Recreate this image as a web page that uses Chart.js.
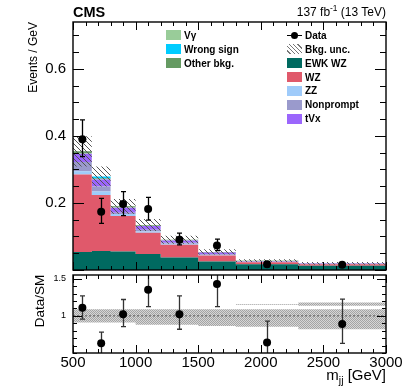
<!DOCTYPE html>
<html>
<head>
<meta charset="utf-8">
<script src="https://cdn.jsdelivr.net/npm/chart.js@4.4.1/dist/chart.umd.min.js"></script>
<style>
  body { margin: 0; background: #fff; font-family: "Liberation Sans", Arial, sans-serif; }
  #wrap { position: relative; width: 407px; height: 387px; overflow: hidden; background: #fff; }
  canvas { position: absolute; left: 0; }
  .txt { position: absolute; white-space: nowrap; color: #000; line-height: 1; }
  .leg { position: absolute; display: flex; align-items: center; height: 14px; font-weight: bold; font-size: 10px; white-space: nowrap; }
  .sw { display: inline-block; width: 15px; height: 10px; margin-right: 3px; }
  sup, sub { font-size: 70%; line-height: 0; }
</style>
</head>
<body>
<div id="wrap">
  <canvas id="top" width="407" height="272" style="top:0"></canvas>
  <canvas id="bottom" width="407" height="115" style="top:272px"></canvas>

  <div class="txt" style="left:73px; top:5px; font-size:14.5px; font-weight:bold;">CMS</div>
  <div class="txt" style="right:21px; top:6px; font-size:12px;">137 fb<sup>-1</sup> (13 TeV)</div>
  <div class="txt" style="left:33px; top:22px; font-size:12px; transform-origin:0 0; transform:rotate(-90deg) translate(-100%,-50%);">Events / GeV</div>
  <div class="txt" style="left:40px; top:301px; font-size:13.5px; transform:translate(-50%,-50%) rotate(-90deg);">Data/SM</div>
  <div class="txt" style="right:21px; top:367px; font-size:15px;">m<sub>jj</sub> [GeV]</div>

  <div id="legend"></div>
</div>

<script>
// bins in m_jj (GeV)
const binEdges = [500, 650, 800, 1000, 1200, 1500, 1800, 2300, 3000];

// stacked backgrounds, Events / GeV, bottom to top
const ewkWZ     = [0.054, 0.057, 0.055, 0.048, 0.037, 0.025, 0.017, 0.013];
const wz        = [0.231, 0.167, 0.106, 0.063, 0.038, 0.018, 0.006, 0.004];
const zz        = [0.010, 0.010, 0.006, 0.004, 0.003, 0.002, 0.001, 0.0005];
const nonprompt = [0.027, 0.015, 0.004, 0.005, 0.003, 0.002, 0.001, 0.0005];
const tVx       = [0.025, 0.021, 0.015, 0.011, 0.007, 0.005, 0.002, 0.0015];
const vGamma    = [0.002, 0.001, 0.001, 0.001, 0.0005, 0.0005, 0.0003, 0.0002];
const otherBkg  = [0.005, 0.002, 0.003, 0.002, 0.0015, 0.0015, 0.0007, 0.0003];
const wrongSign = [0.000, 0.006, 0.000, 0.000, 0.000, 0.000, 0.000, 0.000];
const bkgUnc    = [0.045, 0.030, 0.022, 0.018, 0.012, 0.008, 0.004, 0.004];

// data points
const dataX       = [575, 725, 900, 1100, 1350, 1650, 2050, 2650];
const dataY       = [0.390, 0.174, 0.197, 0.182, 0.090, 0.073, 0.017, 0.016];
const dataErrUp   = [0.058, 0.040, 0.037, 0.035, 0.020, 0.019, 0.008, 0.005];
const dataErrDown = [0.052, 0.035, 0.035, 0.033, 0.015, 0.015, 0.007, 0.004];

// ratio panel
const ratioY       = [1.11, 0.63, 1.02, 1.35, 1.02, 1.43, 0.64, 0.89];
const ratioErrUp   = [0.16, 0.15, 0.20, 0.25, 0.25, 0.27, 0.29, 0.335];
const ratioErrDown = [0.155, 0.18, 0.165, 0.225, 0.20, 0.305, 0.25, 0.26];
const ratioBandLow  = [0.91, 0.91, 0.91, 0.88, 0.88, 0.865, 0.855, 0.82];
const ratioBandHigh = [1.09, 1.09, 1.09, 1.09, 1.09, 1.09, 1.09, 1.09];
const stripEdges = [1800, 2300, 3000];
const stripLow   = [1.145, 1.135];
const stripHigh  = [1.155, 1.18];

const COLORS = {
  ewk: '#006a60', wz: '#e0596b', zz: '#9fcbfa', np: '#9a9acc',
  tvx: '#9b66fc', vg: '#99cc99', other: '#659a62', ws: '#00ccff'
};

// histogram -> stepped points at bin edges
function steps(vals, edges) {
  edges = edges || binEdges;
  const pts = vals.map((v, i) => ({ x: edges[i], y: v }));
  pts.push({ x: edges[edges.length - 1], y: vals[vals.length - 1] });
  return pts;
}

function hatchPattern() {
  const c = document.createElement('canvas');
  c.width = 5; c.height = 5;
  const g = c.getContext('2d');
  g.strokeStyle = '#555';
  g.lineWidth = 1;
  g.beginPath();
  g.moveTo(0, 0); g.lineTo(5, 5);
  g.moveTo(-1, 4); g.lineTo(1, 6);
  g.moveTo(4, -1); g.lineTo(6, 1);
  g.stroke();
  return g.createPattern(c, 'repeat');
}

function dotPattern() {
  const c = document.createElement('canvas');
  c.width = 2; c.height = 2;
  const g = c.getContext('2d');
  g.fillStyle = '#d6d6d6'; g.fillRect(0, 0, 2, 2);
  g.fillStyle = '#a4a4a4'; g.fillRect(0, 0, 1, 1); g.fillRect(1, 1, 1, 1);
  return g.createPattern(c, 'repeat');
}

// frame + inward ROOT style ticks
const frameTicks = {
  id: 'frameTicks',
  afterDraw(chart, args, o) {
    const { ctx, chartArea: a } = chart;
    const xs = chart.scales.x, ys = chart.scales.y;
    ctx.save();
    ctx.strokeStyle = '#000';
    ctx.lineWidth = 1;
    ctx.beginPath();
    for (let i = 0; i <= 25; i++) {
      const v = 500 + i * 100;
      const px = Math.round(xs.getPixelForValue(v)) + 0.5;
      const len = v % 500 === 0 ? o.xMajor : o.xMinor;
      ctx.moveTo(px, a.bottom); ctx.lineTo(px, a.bottom - len);
      ctx.moveTo(px, a.top); ctx.lineTo(px, a.top + len);
    }
    const n = Math.round((o.yTo - o.yFrom) / o.yStep);
    for (let i = 0; i <= n; i++) {
      const v = o.yFrom + i * o.yStep;
      const py = Math.round(ys.getPixelForValue(v)) + 0.5;
      const major = o.majors.some(m => Math.abs(m - v) < 1e-6);
      const len = major ? o.yMajor : o.yMinor;
      ctx.moveTo(a.left, py); ctx.lineTo(a.left + len, py);
      ctx.moveTo(a.right, py); ctx.lineTo(a.right - len, py);
    }
    ctx.stroke();
    ctx.lineWidth = 1.4;
    ctx.strokeRect(a.left, a.top, a.right - a.left, a.bottom - a.top);
    ctx.restore();
  }
};

// vertical error bars, drawn just before the points dataset
function errorBars(dsIndex, xs, ys, up, down, color) {
  return {
    id: 'errorBars',
    beforeDatasetDraw(chart, args) {
      if (args.index !== dsIndex) return;
      const { ctx, chartArea: a } = chart;
      const sx = chart.scales.x, sy = chart.scales.y;
      ctx.save();
      ctx.beginPath();
      ctx.rect(a.left, a.top, a.right - a.left, a.bottom - a.top);
      ctx.clip();
      ctx.strokeStyle = color;
      ctx.lineWidth = 1.3;
      ctx.beginPath();
      xs.forEach((x, i) => {
        const px = Math.round(sx.getPixelForValue(x)) + 0.5;
        const yt = sy.getPixelForValue(ys[i] + up[i]);
        const yb = sy.getPixelForValue(ys[i] - down[i]);
        ctx.moveTo(px, yt); ctx.lineTo(px, yb);
        ctx.moveTo(px - 2.5, yt); ctx.lineTo(px + 2.5, yt);
        ctx.moveTo(px - 2.5, yb); ctx.lineTo(px + 2.5, yb);
      });
      ctx.stroke();
      ctx.restore();
    }
  };
}

// cumulative stack
const layers = [
  { label: 'EWK WZ', vals: ewkWZ, color: COLORS.ewk },
  { label: 'WZ', vals: wz, color: COLORS.wz },
  { label: 'ZZ', vals: zz, color: COLORS.zz },
  { label: 'Nonprompt', vals: nonprompt, color: COLORS.np },
  { label: 'tVx', vals: tVx, color: COLORS.tvx },
  { label: 'V\u03b3', vals: vGamma, color: COLORS.vg },
  { label: 'Other bkg.', vals: otherBkg, color: COLORS.other },
  { label: 'Wrong sign', vals: wrongSign, color: COLORS.ws }
];
let running = binEdges.slice(0, -1).map(() => 0);
const stackSets = layers.map((l, k) => {
  running = running.map((r, i) => r + l.vals[i]);
  return {
    label: l.label,
    data: steps(running.slice()),
    stepped: 'before',
    borderWidth: 0,
    pointRadius: 0,
    backgroundColor: l.color,
    fill: k === 0 ? 'origin' : '-1',
    order: 2
  };
});
const total = running;

const upperSets = stackSets.concat([
  {
    label: 'unc low',
    data: steps(total.map((t, i) => t - bkgUnc[i])),
    stepped: 'before', borderWidth: 0, pointRadius: 0, fill: false, order: 1
  },
  {
    label: 'Bkg. unc.',
    data: steps(total.map((t, i) => t + bkgUnc[i])),
    stepped: 'before', borderWidth: 0, pointRadius: 0,
    backgroundColor: hatchPattern(), fill: '-1', order: 1
  },
  {
    label: 'Data',
    data: dataX.map((x, i) => ({ x: x, y: dataY[i] })),
    showLine: false, pointRadius: 4, pointBackgroundColor: '#000',
    pointBorderWidth: 0, order: 0
  }
]);
const dataIndex = upperSets.length - 1;

// hidden tick marks only push the labels away from the frame
const hiddenGrid = { display: true, drawOnChartArea: false, drawTicks: true, tickLength: 7, color: 'rgba(0,0,0,0)' };

new Chart(document.getElementById('top'), {
  type: 'line',
  data: { datasets: upperSets },
  options: {
    responsive: false,
    animation: false,
    devicePixelRatio: 1,
    events: [],
    layout: { autoPadding: false, padding: { left: 0, right: 21, top: 22, bottom: 2 } },
    plugins: {
      legend: { display: false },
      tooltip: { enabled: false },
      frameTicks: { xMajor: 8, xMinor: 4, yFrom: 0, yTo: 0.7, yStep: 0.05, majors: [0, 0.2, 0.4, 0.6], yMajor: 11, yMinor: 6 }
    },
    scales: {
      x: { type: 'linear', min: 500, max: 3000, display: false },
      y: {
        min: 0, max: 0.74,
        grid: hiddenGrid,
        border: { display: false },
        afterFit: s => { s.width = 73; },
        ticks: {
          stepSize: 0.2, padding: 0, color: '#000', includeBounds: false,
          font: { family: 'Liberation Sans', size: 15, lineHeight: 0.1 },
          callback: v => (v > 0.01 && Math.abs(v / 0.2 - Math.round(v / 0.2)) < 1e-6 && v < 0.7) ? v.toFixed(1) : ''
        }
      }
    }
  },
  plugins: [frameTicks, errorBars(dataIndex, dataX, dataY, dataErrUp, dataErrDown, '#000')]
});

// ratio panel
const dots = dotPattern();
const ratioSets = [
  { data: steps(ratioBandLow), stepped: 'before', borderWidth: 0, pointRadius: 0, fill: false, order: 2 },
  { data: steps(ratioBandHigh), stepped: 'before', borderWidth: 0, pointRadius: 0, backgroundColor: dots, fill: '-1', order: 2 },
  { data: steps(stripLow, stripEdges), stepped: 'before', borderWidth: 0, pointRadius: 0, fill: false, order: 2 },
  { data: steps(stripHigh, stripEdges), stepped: 'before', borderWidth: 0, pointRadius: 0, backgroundColor: dots, fill: '-1', order: 2 },
  { data: [{ x: 500, y: 1 }, { x: 3000, y: 1 }], borderColor: '#555', borderWidth: 1, borderDash: [2, 2], pointRadius: 0, fill: false, order: 1 },
  {
    data: dataX.map((x, i) => ({ x: x, y: ratioY[i] })),
    showLine: false, pointRadius: 4, pointBackgroundColor: '#000', pointBorderWidth: 0, order: 0
  }
];

new Chart(document.getElementById('bottom'), {
  type: 'line',
  data: { datasets: ratioSets },
  options: {
    responsive: false,
    animation: false,
    devicePixelRatio: 1,
    events: [],
    layout: { autoPadding: false, padding: { left: 0, right: 21, top: 3, bottom: 0 } },
    plugins: {
      legend: { display: false },
      tooltip: { enabled: false },
      frameTicks: { xMajor: 8, xMinor: 4, yFrom: 0.5, yTo: 1.5, yStep: 0.1, majors: [1, 1.5], yMajor: 9, yMinor: 4 }
    },
    scales: {
      x: {
        type: 'linear', min: 500, max: 3000,
        grid: { display: false, drawTicks: false },
        border: { display: false },
        afterFit: s => { s.height = 34; },
        ticks: {
          stepSize: 500, padding: 1, color: '#000', maxRotation: 0,
          font: { family: 'Liberation Sans', size: 15 },
          callback: v => String(v)
        }
      },
      y: {
        min: 0.5, max: 1.55,
        grid: hiddenGrid,
        border: { display: false },
        afterFit: s => { s.width = 73; },
        ticks: {
          stepSize: 0.1, padding: 0, color: '#000', autoSkip: false, includeBounds: false,
          font: { family: 'Liberation Sans', size: 9, lineHeight: 0.1 },
          callback: v => Math.abs(v - 1) < 1e-6 ? '1' : (Math.abs(v - 1.5) < 1e-6 ? '1.5' : '')
        }
      }
    }
  },
  plugins: [frameTicks, errorBars(ratioSets.length - 1, dataX, ratioY, ratioErrUp, ratioErrDown, '#333')]
});

// legend (two columns, like the ROOT one)
const legend = document.getElementById('legend');
function addEntry(left, cy, swatchHtml, text) {
  const d = document.createElement('div');
  d.className = 'leg';
  d.style.left = left + 'px';
  d.style.top = (cy - 7) + 'px';
  d.innerHTML = swatchHtml + '<span>' + text + '</span>';
  legend.appendChild(d);
}
const box = c => '<span class="sw" style="background:' + c + '"></span>';
addEntry(166, 35, box(COLORS.vg), 'V\u03b3');
addEntry(166, 49, box(COLORS.ws), 'Wrong sign');
addEntry(166, 63, box(COLORS.other), 'Other bkg.');

addEntry(287, 35, '<span class="sw" style="position:relative;height:10px;">' +
  '<span style="position:absolute;left:0;top:4.5px;width:15px;height:1.3px;background:#000"></span>' +
  '<span style="position:absolute;left:4px;top:1.5px;width:7px;height:7px;border-radius:50%;background:#000"></span></span>', 'Data');
addEntry(287, 49, '<span class="sw" style="background:repeating-linear-gradient(45deg,#fff 0 2px,#777 2px 3px)"></span>', 'Bkg. unc.');
addEntry(287, 63, box(COLORS.ewk), 'EWK WZ');
addEntry(287, 77, box(COLORS.wz), 'WZ');
addEntry(287, 90.5, box(COLORS.zz), 'ZZ');
addEntry(287, 104.5, box(COLORS.np), 'Nonprompt');
addEntry(287, 118.5, box(COLORS.tvx), 'tVx');
</script>
</body>
</html>
